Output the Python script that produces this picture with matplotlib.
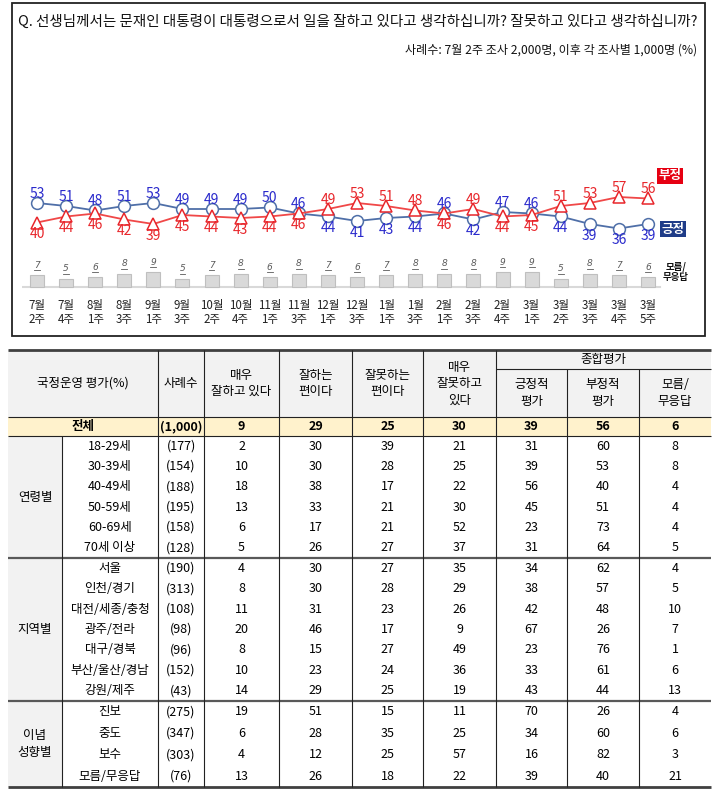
import matplotlib.pyplot as plt
from matplotlib.patches import Rectangle
import numpy as np

plt.rcParams['font.family'] = ['Noto Sans CJK KR', 'DejaVu Sans']

# ---- trend chart data ----
weeks = ["7월\n2주", "7월\n4주", "8월\n1주", "8월\n3주", "9월\n1주", "9월\n3주",
         "10월\n2주", "10월\n4주", "11월\n1주", "11월\n3주", "12월\n1주", "12월\n3주",
         "1월\n1주", "1월\n3주", "2월\n1주", "2월\n3주", "2월\n4주", "3월\n1주",
         "3월\n2주", "3월\n3주", "3월\n4주", "3월\n5주"]
positive = [53, 51, 48, 51, 53, 49, 49, 49, 50, 46, 44, 41, 43, 44, 46, 42, 47, 46, 44, 39, 36, 39]
negative = [40, 44, 46, 42, 39, 45, 44, 43, 44, 46, 49, 53, 51, 48, 46, 49, 44, 45, 51, 53, 57, 56]
unknown = [7, 5, 6, 8, 9, 5, 7, 8, 6, 8, 7, 6, 7, 8, 8, 8, 9, 9, 5, 8, 7, 6]

# ---- table data ----
col_heads = ["매우\n잘하고 있다", "잘하는\n편이다", "잘못하는\n편이다", "매우\n잘못하고\n있다"]
sum_heads = ["긍정적\n평가", "부정적\n평가", "모름/\n무응답"]
total_n = 1000
total_vals = [9, 29, 25, 30, 39, 56, 6]

age_labels = ["18-29세", "30-39세", "40-49세", "50-59세", "60-69세", "70세 이상"]
age_n = [177, 154, 188, 195, 158, 128]
age_vals = [[2, 30, 39, 21, 31, 60, 8], [10, 30, 28, 25, 39, 53, 8], [18, 38, 17, 22, 56, 40, 4],
            [13, 33, 21, 30, 45, 51, 4], [6, 17, 21, 52, 23, 73, 4], [5, 26, 27, 37, 31, 64, 5]]
region_labels = ["서울", "인천/경기", "대전/세종/충청", "광주/전라", "대구/경북", "부산/울산/경남", "강원/제주"]
region_n = [190, 313, 108, 98, 96, 152, 43]
region_vals = [[4, 30, 27, 35, 34, 62, 4], [8, 30, 28, 29, 38, 57, 5], [11, 31, 23, 26, 42, 48, 10],
               [20, 46, 17, 9, 67, 26, 7], [8, 15, 27, 49, 23, 76, 1], [10, 23, 24, 36, 33, 61, 6],
               [14, 29, 25, 19, 43, 44, 13]]
ideo_labels = ["진보", "중도", "보수", "모름/무응답"]
ideo_n = [275, 347, 303, 76]
ideo_vals = [[19, 51, 15, 11, 70, 26, 4], [6, 28, 35, 25, 34, 60, 6],
             [4, 12, 25, 57, 16, 82, 3], [13, 26, 18, 22, 39, 40, 21]]

BLUE_LINE = '#4F6FA8'
BLUE_TXT = '#2A2ACC'
RED_LINE = '#F04848'
RED_TXT = '#E8262B'

fig = plt.figure(figsize=(7.2, 8), dpi=100)
bg = fig.add_axes([0, 0, 1, 1])
bg.set_xlim(0, 720)
bg.set_ylim(800, 0)
bg.axis('off')


def px_axes(x0, y0, x1, y1):
    return fig.add_axes([x0 / 720, 1 - y1 / 800, (x1 - x0) / 720, (y1 - y0) / 800])


# frame + titles
bg.add_patch(Rectangle((12, 3), 693, 333, fill=False, lw=1.3, ec='#222222'))
bg.text(18, 22, "Q. 선생님께서는 문재인 대통령이 대통령으로서 일을 잘하고 있다고 생각하십니까? 잘못하고 있다고 생각하십니까?",
        fontsize=10.45, va='center', ha='left', color='#111111')
bg.text(697, 50, "사례수: 7월 2주 조사 2,000명, 이후 각 조사별 1,000명 (%)",
        fontsize=8.7, va='center', ha='right', color='#111111')

# ---- trend chart ----
n = len(weeks)
x = np.arange(n)
step = (648 - 37) / (n - 1)
ax = px_axes(22, 150, 700, 292)
xmin = -(37 - 22) / step
ax.set_xlim(xmin, xmin + 678 / step)
ax.set_ylim(-6.33, 88.33)
ax.patch.set_visible(False)
for s in ax.spines.values():
    s.set_visible(False)
ax.set_yticks([])
ax.set_xticks(x, weeks, fontsize=8.3, linespacing=1.15, color='#222222')
ax.tick_params(axis='x', length=0, pad=5)

ax.plot(x, positive, color=BLUE_LINE, lw=1.3, marker='o', ms=8.5, mfc='white',
        mec=BLUE_LINE, mew=1.1, zorder=3)
ax.plot(x, negative, color=RED_LINE, lw=1.3, marker='^', ms=8, mfc='white',
        mec=RED_TXT, mew=1.1, zorder=3)

for i in range(n):
    p, q = positive[i], negative[i]
    if p >= q:
        po, qo = 6.5, -8.6
    else:
        po, qo = -8.6, 6.5
    ax.annotate(str(p), (i, p), xytext=(0, po), textcoords='offset points',
                ha='center', va='center', fontsize=10, color=BLUE_TXT)
    ax.annotate(str(q), (i, q), xytext=(0, qo), textcoords='offset points',
                ha='center', va='center', fontsize=10, color=RED_TXT)

axb = ax.twinx()
axb.set_ylim(-3, 82)
for s in axb.spines.values():
    s.set_visible(False)
axb.set_yticks([])
axb.bar(x, unknown, width=0.48, color='#D9D9D9', ec='#BFBFBF', lw=0.8, zorder=2)
axb.axhline(0, xmin=0, xmax=(660 - 22) / 678, color='#D9D9D9', lw=1.5, zorder=1)
for i, v in enumerate(unknown):
    axb.text(i, v + 3.2, str(v), ha='center', va='bottom', fontsize=6.5, style='italic',
             family='DejaVu Sans', color='#595959')
    axb.plot([i - 0.1, i + 0.1], [v + 2.9, v + 2.9], color='#595959', lw=0.6)

bg.text(670, 176, "부정", fontsize=9, fontweight='bold', color='white', ha='center', va='center',
        bbox=dict(boxstyle='square,pad=0.15', fc='#E60012', ec='none'))
bg.text(673, 229, "긍정", fontsize=9, fontweight='bold', color='white', ha='center', va='center',
        bbox=dict(boxstyle='square,pad=0.15', fc='#1F3C88', ec='none'))
bg.text(676, 272, "모름/\n무응답", fontsize=6.8, fontweight='bold', color='#111111',
        ha='center', va='center', linespacing=1.0)

# ---- table ----
cx = [8, 62, 158, 204, 279, 352, 423, 496, 567, 639, 711]
val_x = [(cx[k] + cx[k + 1]) / 2 for k in range(3, 10)]
n_x = (cx[2] + cx[3]) / 2
lab_x = (cx[1] + cx[2]) / 2
grp_x = (cx[0] + cx[1]) / 2
top, sub, hbot, tbot = 350, 369, 417, 436
sec = [436, 558, 701, 787]
TS = 9

bg.add_patch(Rectangle((cx[0], top), cx[-1] - cx[0], hbot - top, fc='#F2F2F2', ec='none'))
bg.add_patch(Rectangle((cx[0], hbot), cx[-1] - cx[0], tbot - hbot, fc='#FFF2CC', ec='none'))
bg.add_patch(Rectangle((cx[0], tbot), cx[1] - cx[0], sec[-1] - tbot, fc='#F2F2F2', ec='none'))

bg.hlines(top, cx[0], cx[-1], color='#404040', lw=2)
bg.hlines(sub, cx[7], cx[-1], color='#222222', lw=0.8)
bg.hlines([hbot, tbot], cx[0], cx[-1], color='#222222', lw=0.8)
bg.hlines(sec[1:3], cx[0], cx[-1], color='#595959', lw=1.6)
bg.hlines(sec[-1], cx[0], cx[-1], color='#404040', lw=2)
bg.vlines(cx[1], tbot, sec[-1], color='#222222', lw=0.8)
bg.vlines(cx[2:8], top, sec[-1], color='#222222', lw=0.8)
bg.vlines(cx[8:10], sub, sec[-1], color='#222222', lw=0.8)

hy = (top + hbot) / 2
bg.text((cx[0] + cx[2]) / 2, hy, "국정운영 평가(%)", fontsize=TS, ha='center', va='center')
bg.text(n_x, hy, "사례수", fontsize=TS, ha='center', va='center')
for k, h in enumerate(col_heads):
    bg.text(val_x[k], hy, h, fontsize=TS, ha='center', va='center', linespacing=1.35)
bg.text((cx[7] + cx[-1]) / 2, (top + sub) / 2, "종합평가", fontsize=TS, ha='center', va='center')
for k, h in enumerate(sum_heads):
    bg.text(val_x[4 + k], (sub + hbot) / 2, h, fontsize=TS, ha='center', va='center', linespacing=1.35)

ty = (hbot + tbot) / 2
bg.text((cx[0] + cx[2]) / 2, ty, "전체", fontsize=TS, fontweight='bold', ha='center', va='center')
bg.text(n_x, ty, "({:,})".format(total_n), fontsize=TS, fontweight='bold', ha='center', va='center')
for k, v in enumerate(total_vals):
    bg.text(val_x[k], ty, str(v), fontsize=TS, fontweight='bold', ha='center', va='center')

groups = [("연령별", age_labels, age_n, age_vals),
          ("지역별", region_labels, region_n, region_vals),
          ("이념\n성향별", ideo_labels, ideo_n, ideo_vals)]
for g, (gname, labels, ns, vals) in enumerate(groups):
    y0, y1 = sec[g], sec[g + 1]
    rh = (y1 - y0) / len(labels)
    bg.text(grp_x, (y0 + y1) / 2, gname, fontsize=TS, ha='center', va='center', linespacing=1.35)
    for r, lab in enumerate(labels):
        yy = y0 + (r + 0.5) * rh
        bg.text(lab_x, yy, lab, fontsize=TS, ha='center', va='center')
        bg.text(n_x, yy, "({})".format(ns[r]), fontsize=TS, ha='center', va='center')
        for k, v in enumerate(vals[r]):
            bg.text(val_x[k], yy, str(v), fontsize=TS, ha='center', va='center')

fig.savefig("out.png", dpi=100)
